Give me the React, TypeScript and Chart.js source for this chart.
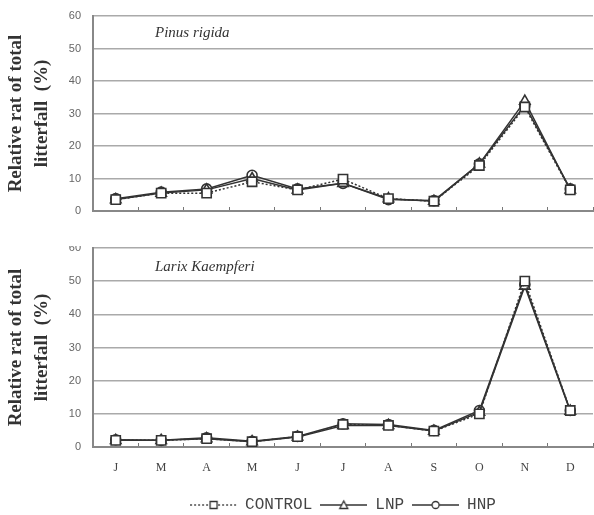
import React, { useEffect, useRef } from "react";
import { Chart, registerables } from "chart.js";

Chart.register(...registerables);

// ---------- data ----------
const months = ["J", "M", "A", "M", "J", "J", "A", "S", "O", "N", "D"];
const yTickValues = [0, 10, 20, 30, 40, 50, 60];
const seriesNames = ["CONTROL", "LNP", "HNP"];
const yTitleLines = ["Relative rat of total", "litterfall  (%)"];

const pinusTitle = "Pinus rigida";
const pinusControl = [3.5, 5.5, 5.5, 9, 6.5, 9.8, 3.8, 3, 14, 32, 6.5];
const pinusLNP = [3.5, 5.5, 6.5, 10, 6.5, 8.5, 3.8, 3, 14.5, 33.8, 6.5];
const pinusHNP = [3.8, 5.8, 6.8, 11, 6.8, 8.5, 3.5, 3.2, 14.5, 32.5, 6.8];

const larixTitle = "Larix Kaempferi";
const larixControl = [2, 2, 2.5, 1.6, 3.1, 6.8, 6.5, 4.8, 10, 50, 11];
const larixLNP = [2, 2, 2.5, 1.6, 3.0, 6.5, 6.5, 4.8, 10.5, 48.5, 10.8];
const larixHNP = [2.2, 2, 2.8, 1.7, 3.2, 7, 6.8, 5, 11, 49, 11];

// ---------- styles ----------
const INK = "#333";
const markerStyles = ["rect", "triangle", "circle"];
const markerRadius = [6.5, 6, 5];
const lineDashes = [[2, 2], [], []];

function makeLegendIcon(i: number): HTMLCanvasElement {
  const c = document.createElement("canvas");
  c.width = 47;
  c.height = 14;
  const ctx = c.getContext("2d")!;
  ctx.strokeStyle = INK;
  ctx.lineWidth = 1.3;
  ctx.setLineDash(lineDashes[i]);
  ctx.beginPath();
  ctx.moveTo(0, 7);
  ctx.lineTo(47, 7);
  ctx.stroke();
  ctx.setLineDash([]);
  ctx.fillStyle = "#fff";
  ctx.beginPath();
  if (i === 0) {
    ctx.rect(20, 3.5, 7, 7);
  } else if (i === 1) {
    ctx.moveTo(23.5, 3);
    ctx.lineTo(27.5, 10.5);
    ctx.lineTo(19.5, 10.5);
    ctx.closePath();
  } else {
    ctx.arc(23.5, 7, 3.5, 0, Math.PI * 2);
  }
  ctx.fill();
  ctx.stroke();
  return c;
}

const panelLabel = {
  id: "panelLabel",
  afterDraw(chart: any, _args: any, opts: any) {
    const { ctx, chartArea } = chart;
    ctx.save();
    ctx.font = 'italic 15px "Liberation Serif"';
    ctx.fillStyle = "#333";
    ctx.textBaseline = "middle";
    ctx.textAlign = "left";
    ctx.fillText(opts.text, chartArea.left + opts.dx, chartArea.top + opts.dy);
    ctx.restore();
  },
};

type PanelProps = {
  title: string;
  series: number[][];
  showXLabels: boolean;
  showLegend: boolean;
  top: number;
  height: number;
  padTop: number;
  xHeight: number;
  labelDy: number;
};

function Panel(p: PanelProps) {
  const ref = useRef<HTMLCanvasElement | null>(null);
  useEffect(() => {
    if (!ref.current) return;
    const icons = seriesNames.map((_, i) => makeLegendIcon(i));
    const chart = new Chart(ref.current, {
      type: "line",
      data: {
        labels: months,
        datasets: p.series.map((d, i) => ({
          label: seriesNames[i],
          data: d,
          borderColor: INK,
          borderWidth: 1.5,
          borderDash: lineDashes[i],
          pointStyle: markerStyles[i] as any,
          pointRadius: markerRadius[i],
          pointBackgroundColor: "#fff",
          pointBorderColor: INK,
          pointBorderWidth: 1.6,
          tension: 0,
          fill: false,
        })),
      },
      options: {
        responsive: false,
        animation: false,
        layout: {
          autoPadding: false,
          padding: { top: p.padTop, right: 1, left: 0, bottom: 0 },
        },
        scales: {
          x: {
            type: "category",
            offset: true,
            grid: {
              offset: true,
              drawOnChartArea: false,
              drawTicks: true,
              tickLength: -4,
              color: "#777",
              lineWidth: 1,
            },
            border: { color: "#888", width: 2 },
            ticks: {
              display: p.showXLabels,
              padding: 18,
              color: "#444",
              font: { family: '"Liberation Serif"', size: 12 },
            },
            afterFit: (s: any) => {
              s.height = p.xHeight;
              s.paddingLeft = 0;
              s.paddingRight = 0;
            },
          },
          y: {
            min: 0,
            max: 60,
            afterBuildTicks: (s: any) => {
              s.ticks = yTickValues.map((v) => ({ value: v }));
            },
            grid: { color: "#aaa", lineWidth: 1.5, drawTicks: false },
            border: { color: "#888", width: 2 },
            ticks: {
              padding: 12,
              color: "#666",
              font: { family: '"Liberation Sans"', size: 11 },
            },
            title: {
              display: true,
              text: yTitleLines,
              color: "#333",
              padding: { top: 3, bottom: 0 },
              font: {
                family: '"Liberation Serif"',
                size: 19,
                weight: "bold",
                lineHeight: 26 / 19,
              },
            },
            afterFit: (s: any) => {
              s.width = 93;
              s.paddingTop = 0;
              s.paddingBottom = 0;
            },
          },
        },
        plugins: {
          legend: {
            display: p.showLegend,
            position: "bottom",
            fullSize: false,
            labels: {
              usePointStyle: true,
              pointStyleWidth: 47,
              padding: 8,
              color: "#444",
              font: { family: '"Liberation Mono"', size: 16 },
              generateLabels: (ch: any) =>
                Chart.defaults.plugins.legend.labels
                  .generateLabels(ch)
                  .map((l: any, i: number) => ({ ...l, pointStyle: icons[i] })),
            },
          },
          tooltip: { enabled: false },
          panelLabel: { text: p.title, dx: 62, dy: p.labelDy },
        } as any,
      },
      plugins: [panelLabel],
    });
    return () => chart.destroy();
  }, []);
  return (
    <canvas
      ref={ref}
      width={594}
      height={p.height}
      style={{ position: "absolute", left: 0, top: p.top, display: "block" }}
    />
  );
}

export default function App() {
  return (
    <div
      style={{
        position: "absolute",
        left: 0,
        top: 0,
        width: 594,
        height: 515,
        overflow: "hidden",
        background: "#fff",
      }}
    >
      <Panel
        title={pinusTitle}
        series={[pinusControl, pinusLNP, pinusHNP]}
        showXLabels={false}
        showLegend={false}
        top={0}
        height={246}
        padTop={16}
        xHeight={35}
        labelDy={17}
      />
      <Panel
        title={larixTitle}
        series={[larixControl, larixLNP, larixHNP]}
        showXLabels={true}
        showLegend={true}
        top={246}
        height={277}
        padTop={2}
        xHeight={42}
        labelDy={19}
      />
    </div>
  );
}
